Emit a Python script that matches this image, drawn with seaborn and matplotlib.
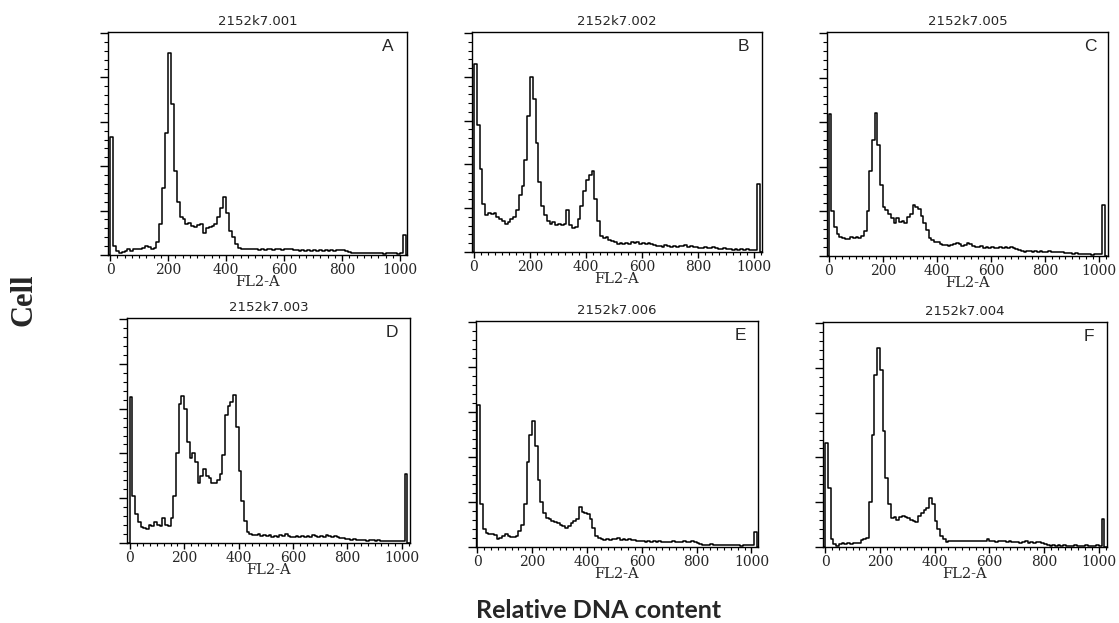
import numpy as np
import pandas as pd
import matplotlib
matplotlib.use("Agg")
import matplotlib.pyplot as plt
import seaborn as sns
from matplotlib.ticker import MultipleLocator, NullFormatter, FixedLocator

sns.set_style("ticks")
plt.rcParams['font.family'] = ['DejaVu Sans']

# ---------------- data ----------------
bin_width = 10  # channels per bin, bins start at channel 0
panel_letters = ["A", "B", "C", "D", "E", "F"]
sample_titles = ["2152k7.001", "2152k7.002", "2152k7.005",
                 "2152k7.003", "2152k7.006", "2152k7.004"]
x_tick_values = [0, 200, 400, 600, 800, 1000]
x_axis_label = "FL2-A"
fig_x_label = "Relative DNA content"
fig_y_label = "Cell"

counts_A = [53, 4, 2, 1, 1.5, 2, 2.5, 2, 2.5, 2.5,
            2.5, 3, 4, 3.5, 2.5, 3, 6, 14, 30, 55,
            91, 68, 38, 24, 17, 16, 14, 14.5, 13, 12.5,
            13.5, 14, 10, 12, 12.5, 13, 14, 17, 21, 26,
            19, 11, 8, 5, 3, 2.5, 2.5, 2.8, 2.5, 2.5,
            2.5, 2.3, 2.6, 2.4, 2.7, 2.5, 2.3, 2.8, 2.6, 2.4,
            2.9, 2.5, 2.7, 2.4, 2.2, 1.8, 2.3, 2.0, 2.4, 1.9,
            2.2, 1.8, 2.3, 2.0, 2.2, 1.9, 2.1, 1.8, 2.2, 2.4,
            2.1, 1.6, 1.3, 0.9, 1.0, 0.8, 1.1, 0.7, 1.0, 0.8,
            1.1, 0.7, 0.9, 1.0, 0.6, 0.9, 0.7, 1.0, 0.8, 0.6,
            0.9, 9]

counts_B = [86, 58, 38, 22, 17, 18, 17.5, 18, 16, 15,
            14, 13, 13.5, 15, 16, 19, 26, 30, 42, 62,
            80, 70, 50, 32, 21, 17, 14, 13, 13.5, 12.5,
            13, 12.5, 13, 19, 12.5, 11, 11.5, 15, 21, 28,
            33, 35, 37, 24, 14, 7.5, 6.5, 6.8, 5.5, 5,
            4.5, 3.8, 4.2, 3.6, 4.1, 3.7, 4.4, 3.9, 4.6, 3.8,
            4.3, 3.5, 4.0, 3.7, 3.2, 2.6, 2.9, 2.4, 3.1, 2.7,
            2.5, 2.9, 2.3, 2.8, 2.6, 3.0, 2.4, 2.7, 2.2, 2.5,
            2.0, 1.8, 2.1, 1.7, 1.9, 2.2, 1.6, 1.5, 1.4, 1.6,
            1.2, 1.3, 1.1, 1.4, 1.0, 1.2, 0.9, 1.3, 1.0, 1.1,
            0.9, 31]

counts_C = [63.6, 20, 13, 10, 8.5, 8, 7.5, 7.8, 8.4, 8,
            8.5, 8.2, 9, 11, 20, 38, 52, 64, 50, 32,
            22, 20.5, 19, 17, 14.6, 17, 15.4, 15.5, 15, 17.6,
            19, 22.8, 22, 21, 18, 15, 11.6, 8, 7, 6.5,
            6.4, 5.5, 5, 4.8, 4.5, 4.8, 5.5, 6, 5.2, 4.5,
            4.8, 5.7, 5.2, 4.6, 4.2, 4.0, 4.3, 3.8, 4.1, 3.6,
            4.0, 3.7, 3.5, 4.1, 3.8, 4.0, 3.6, 3.9, 3.4, 3.2,
            2.6, 2.2, 1.9, 2.1, 2.3, 2.0, 2.2, 1.8, 2.1, 2.0,
            1.9, 2.2, 1.7, 2.0, 1.8, 1.6, 1.9, 1.5, 1.4, 1.2,
            0.9, 1.3, 0.8, 1.0, 0.7, 0.9, 0.8, 0.6, 0.8, 0.7,
            0.9, 23]

counts_D = [65, 21, 13, 9.5, 7, 6.5, 6.4, 8, 7.5, 9.3,
            8, 7.5, 11, 8, 7.5, 11, 21, 40, 62, 65.7,
            60, 45, 38, 40, 36, 27, 30, 33, 30, 29,
            27, 27, 28, 31, 39.5, 57, 61, 63, 66, 52,
            32, 18.7, 10, 5, 4, 3.7, 3.5, 3.8, 3.2, 3.6,
            3.0, 3.4, 2.8, 3.3, 2.9, 3.6, 3.2, 3.8, 3.1, 2.9,
            2.7, 3.2, 2.8, 3.0, 2.6, 3.1, 2.9, 3.4, 3.0, 2.7,
            3.1, 2.8, 3.5, 3.2, 2.9, 3.3, 2.7, 2.4, 2.1, 1.9,
            1.7, 1.5, 1.6, 1.3, 1.5, 1.2, 1.4, 1.1, 1.3, 1.2,
            1.1, 1.2, 1.0, 1.1, 0.9, 1.0, 1.1, 0.9, 1.0, 1.1,
            1.0, 31]

counts_E = [63, 19, 7.8, 6.4, 5.6, 6, 5.2, 3.4, 4.2, 4.9,
            5.6, 5, 4.4, 4.6, 4.9, 7, 10, 19, 38, 50,
            56, 45, 30, 20, 15, 13, 12.5, 11.5, 11, 10.5,
            10, 9.5, 8.6, 9.5, 10.8, 11.5, 12.3, 18, 15.5, 15.2,
            14.5, 12.3, 8.6, 5, 3.8, 3.4, 3.2, 3.5, 3.3, 3.6,
            3.4, 3.8, 3.2, 3.6, 3.0, 3.5, 3.1, 2.9, 2.6, 2.8,
            2.6, 2.4, 2.5, 2.3, 2.6, 2.2, 2.5, 2.3, 2.1, 2.4,
            2.2, 2.5, 2.3, 2.1, 2.4, 2.6, 2.2, 2.4, 2.5, 2.3,
            1.8, 1.3, 0.9, 1.1, 0.8, 1.2, 0.9, 1.0, 0.7, 1.1,
            0.8, 1.0, 0.7, 0.9, 1.1, 0.8, 0.6, 0.9, 0.7, 0.8,
            1.0, 6.8]

counts_F = [46.6, 26.5, 3.4, 1.2, 0.5, 1.5, 1.6, 1.4, 1.7, 1.5,
            1.6, 1.8, 1.9, 3, 3.5, 4.2, 20, 50, 77, 89,
            79, 52, 31, 19, 13, 13.5, 12, 13.5, 14, 13.5,
            13, 12, 11.5, 11.3, 14, 15.4, 16.5, 17.6, 22, 19,
            11.6, 7.9, 5, 3.4, 2.4, 2.6, 2.8, 2.5, 2.9, 2.7,
            2.6, 2.8, 2.5, 2.9, 2.7, 2.6, 2.8, 2.5, 2.7, 3.4,
            2.9, 2.6, 2.4, 2.7, 2.5, 2.6, 2.3, 2.5, 2.4, 2.2,
            2.3, 2.0, 2.2, 2.6, 1.9, 2.1, 2.0, 2.4, 2.1, 1.8,
            1.3, 0.8, 0.6, 0.9, 0.5, 0.7, 0.4, 0.8, 0.5, 0.6,
            0.4, 0.7, 0.5, 0.6, 0.3, 0.8, 0.5, 0.6, 0.4, 0.7,
            0.5, 12.4]

all_counts = [counts_A, counts_B, counts_C, counts_D, counts_E, counts_F]

# ---------------- layout ----------------
W, H = 1119, 623
px_boxes = [  # left, top, right, bottom in pixels
    (108, 32, 407, 255),
    (472, 32, 762, 252),
    (827, 32, 1108, 256),
    (127, 318, 410, 543),
    (476, 321, 758, 547),
    (823, 322, 1107, 547),
]
x_limits = [(-7, 1024), (-7, 1028), (-6, 1032), (-10, 1030), (-5, 1024), (-8, 1030)]

fig = plt.figure(figsize=(W / 100, H / 100), dpi=100)
fig.patch.set_facecolor("white")

for counts, title, letter, (l, t, r, b), xl in zip(all_counts, sample_titles, panel_letters,
                                                   px_boxes, x_limits):
    ax = fig.add_axes([l / W, 1 - b / H, (r - l) / W, (b - t) / H])
    n = len(counts)
    # pad with an empty bin on each side so the outline closes at the baseline
    edges = [float(e) for e in np.arange(-1, n + 2) * bin_width]
    vals = [0.0] + [float(v) for v in counts] + [0.0]
    centers = [e + bin_width / 2 for e in edges[:-1]]
    df = pd.DataFrame({"channel": centers, "events": vals})
    sns.histplot(data=df, x="channel", weights="events", bins=edges,
                 element="step", fill=False, color="black", linewidth=1.1, ax=ax)
    ax.set_xlim(*xl)
    ax.set_ylim(0, 100.5)
    ax.set_ylabel("")
    ax.set_xlabel(x_axis_label, fontsize=10.5, family="DejaVu Serif", labelpad=-1.5)
    ax.set_title(title, fontsize=9.5, pad=5, family="DejaVu Sans")
    ax.xaxis.set_major_locator(FixedLocator(x_tick_values))
    ax.xaxis.set_minor_locator(MultipleLocator(25))
    ax.yaxis.set_major_locator(MultipleLocator(20))
    ax.yaxis.set_minor_locator(MultipleLocator(4))
    ax.yaxis.set_major_formatter(NullFormatter())
    ax.tick_params(axis="x", which="major", direction="out", length=4, width=1, pad=2,
                   labelsize=10, color="black")
    ax.tick_params(axis="x", which="minor", direction="out", length=2.5, width=0.8, color="black")
    ax.tick_params(axis="y", which="major", direction="out", length=5.5, width=1, color="black")
    ax.tick_params(axis="y", which="minor", direction="out", length=3, width=0.8, color="black")
    for lab in ax.get_xticklabels():
        lab.set_family("DejaVu Serif")
    for sp in ax.spines.values():
        sp.set_visible(True)
        sp.set_color("black")
        sp.set_linewidth(1.0)
    ax.text(0.936, 0.935, letter, transform=ax.transAxes, ha="center", va="center",
            fontsize=12.5, family="Liberation Sans")

fig.text(24 / W, 1 - 300 / H, fig_y_label, rotation=90, ha="center", va="center",
         fontsize=22, fontweight="bold", family="Liberation Serif")
fig.text(599 / W, 1 - 611 / H, fig_x_label, ha="center", va="center",
         fontsize=18, fontweight="bold", family="Lato")

fig.savefig("out.png", dpi=100, facecolor="white")
